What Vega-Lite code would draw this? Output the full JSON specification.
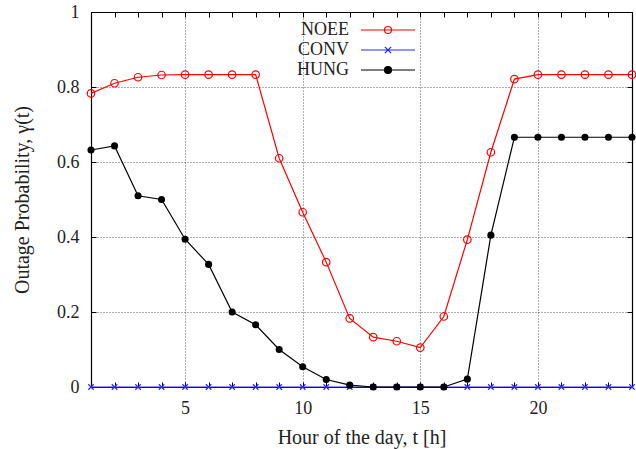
{
  "$schema": "https://vega.github.io/schema/vega-lite/v6.json",
  "width": 541,
  "height": 375,
  "autosize": {"type": "none"},
  "padding": {"left": 91, "top": 12, "right": 4, "bottom": 62},
  "background": "white",
  "config": {
    "view": {"stroke": null},
    "font": "Liberation Serif",
    "axis": {
      "labelFont": "Liberation Serif",
      "titleFont": "Liberation Serif",
      "labelFontSize": 18,
      "titleFontSize": 20,
      "titleFontWeight": "normal",
      "labelColor": "#222",
      "titleColor": "#222",
      "domainColor": "#000",
      "domainWidth": 1.2,
      "tickColor": "#000",
      "tickWidth": 1,
      "gridColor": "#333",
      "gridDash": [1, 2],
      "gridWidth": 0.8,
      "gridOpacity": 1,
      "labelFlush": false,
      "labelOverlap": false
    }
  },
  "data": {
    "values": [
      {"t": 1, "series": "NOEE", "p": 0.783}, {"t": 2, "series": "NOEE", "p": 0.81}, {"t": 3, "series": "NOEE", "p": 0.826}, {"t": 4, "series": "NOEE", "p": 0.832},
      {"t": 5, "series": "NOEE", "p": 0.833}, {"t": 6, "series": "NOEE", "p": 0.833}, {"t": 7, "series": "NOEE", "p": 0.833}, {"t": 8, "series": "NOEE", "p": 0.833},
      {"t": 9, "series": "NOEE", "p": 0.61}, {"t": 10, "series": "NOEE", "p": 0.466}, {"t": 11, "series": "NOEE", "p": 0.333}, {"t": 12, "series": "NOEE", "p": 0.183},
      {"t": 13, "series": "NOEE", "p": 0.133}, {"t": 14, "series": "NOEE", "p": 0.122}, {"t": 15, "series": "NOEE", "p": 0.105}, {"t": 16, "series": "NOEE", "p": 0.188},
      {"t": 17, "series": "NOEE", "p": 0.393}, {"t": 18, "series": "NOEE", "p": 0.626}, {"t": 19, "series": "NOEE", "p": 0.821}, {"t": 20, "series": "NOEE", "p": 0.833},
      {"t": 21, "series": "NOEE", "p": 0.833}, {"t": 22, "series": "NOEE", "p": 0.833}, {"t": 23, "series": "NOEE", "p": 0.833}, {"t": 24, "series": "NOEE", "p": 0.833},
      {"t": 1, "series": "CONV", "p": 0}, {"t": 2, "series": "CONV", "p": 0}, {"t": 3, "series": "CONV", "p": 0}, {"t": 4, "series": "CONV", "p": 0},
      {"t": 5, "series": "CONV", "p": 0}, {"t": 6, "series": "CONV", "p": 0}, {"t": 7, "series": "CONV", "p": 0}, {"t": 8, "series": "CONV", "p": 0},
      {"t": 9, "series": "CONV", "p": 0}, {"t": 10, "series": "CONV", "p": 0}, {"t": 11, "series": "CONV", "p": 0}, {"t": 12, "series": "CONV", "p": 0},
      {"t": 13, "series": "CONV", "p": 0}, {"t": 14, "series": "CONV", "p": 0}, {"t": 15, "series": "CONV", "p": 0}, {"t": 16, "series": "CONV", "p": 0},
      {"t": 17, "series": "CONV", "p": 0}, {"t": 18, "series": "CONV", "p": 0}, {"t": 19, "series": "CONV", "p": 0}, {"t": 20, "series": "CONV", "p": 0},
      {"t": 21, "series": "CONV", "p": 0}, {"t": 22, "series": "CONV", "p": 0}, {"t": 23, "series": "CONV", "p": 0}, {"t": 24, "series": "CONV", "p": 0},
      {"t": 1, "series": "HUNG", "p": 0.632}, {"t": 2, "series": "HUNG", "p": 0.643}, {"t": 3, "series": "HUNG", "p": 0.51}, {"t": 4, "series": "HUNG", "p": 0.5},
      {"t": 5, "series": "HUNG", "p": 0.394}, {"t": 6, "series": "HUNG", "p": 0.327}, {"t": 7, "series": "HUNG", "p": 0.2}, {"t": 8, "series": "HUNG", "p": 0.166},
      {"t": 9, "series": "HUNG", "p": 0.1}, {"t": 10, "series": "HUNG", "p": 0.054}, {"t": 11, "series": "HUNG", "p": 0.02}, {"t": 12, "series": "HUNG", "p": 0.005},
      {"t": 13, "series": "HUNG", "p": 0}, {"t": 14, "series": "HUNG", "p": 0}, {"t": 15, "series": "HUNG", "p": 0}, {"t": 16, "series": "HUNG", "p": 0},
      {"t": 17, "series": "HUNG", "p": 0.021}, {"t": 18, "series": "HUNG", "p": 0.405}, {"t": 19, "series": "HUNG", "p": 0.666}, {"t": 20, "series": "HUNG", "p": 0.666},
      {"t": 21, "series": "HUNG", "p": 0.666}, {"t": 22, "series": "HUNG", "p": 0.666}, {"t": 23, "series": "HUNG", "p": 0.666}, {"t": 24, "series": "HUNG", "p": 0.666}
    ]
  },
  "resolve": {"axis": {"x": "independent", "y": "independent"}},
  "layer": [
    {
      "mark": {"type": "line", "strokeWidth": 1.2, "clip": false},
      "encoding": {
        "x": {"field": "t", "type": "quantitative", "scale": {"domain": [1, 24], "nice": false, "zero": false},
          "axis": {"orient": "bottom", "values": [5, 10, 15, 20], "grid": true, "ticks": false, "labelPadding": 12, "title": "Hour of the day, t [h]", "titlePadding": 10}},
        "y": {"field": "p", "type": "quantitative", "scale": {"domain": [0, 1], "nice": false},
          "axis": {"orient": "left", "values": [0, 0.2, 0.4, 0.6, 0.8, 1], "format": "~g", "grid": true, "ticks": false, "labelAlign": "right", "labelBaseline": "middle", "labelPadding": 12, "title": "Outage Probability, γ(t)", "titlePadding": 24}},
        "color": {"field": "series", "type": "nominal",
          "scale": {"domain": ["NOEE", "CONV", "HUNG"], "range": ["#ff0000", "#2a2aff", "#000000"]},
          "legend": {
            "orient": "none", "legendX": 286, "legendY": 7, "title": null,
            "labelFont": "Liberation Serif", "labelFontSize": 18, "labelColor": "#222",
            "labelAlign": "right", "labelOffset": -50,
            "symbolSize": 400, "symbolStrokeWidth": 1.2, "rowPadding": 0,
            "encode": {"symbols": {"update": {
              "shape": {"signal": "datum.value === 'CONV' ? 'M-2.7,0H2.7M-0.32,-0.32L0.32,0.32M-0.32,0.32L0.32,-0.32' : 'M-2.7,0H2.7M0.35,0A0.35,0.35,0,1,1,-0.35,0A0.35,0.35,0,1,1,0.35,0'"},
              "fill": {"signal": "datum.value === 'HUNG' ? '#000' : 'transparent'"},
              "fillOpacity": {"value": 1}
            }}}
          }}
      }
    },
    {
      "transform": [{"filter": "datum.series === 'NOEE'"}],
      "mark": {"type": "point", "shape": "circle", "filled": false, "color": "#ff0000", "size": 56, "strokeWidth": 1.2, "opacity": 1, "clip": false},
      "encoding": {
        "x": {"field": "t", "type": "quantitative", "axis": {"orient": "top", "values": [1,2,3,4,5,6,7,8,9,10,11,12,13,14,15,16,17,18,19,20,21,22,23,24], "labels": false, "grid": false, "tickSize": -5, "title": null}},
        "y": {"field": "p", "type": "quantitative", "axis": {"orient": "right", "values": [0, 0.2, 0.4, 0.6, 0.8, 1], "labels": false, "grid": false, "tickSize": -5, "title": null}}
      }
    },
    {
      "transform": [{"filter": "datum.series === 'CONV'"}],
      "mark": {"type": "point", "shape": "M-1,-1L1,1M-1,1L1,-1", "filled": false, "color": "#2a2aff", "size": 30, "strokeWidth": 1.2, "opacity": 1, "clip": false},
      "encoding": {
        "x": {"field": "t", "type": "quantitative", "axis": {"orient": "bottom", "values": [1,2,3,4,5,6,7,8,9,10,11,12,13,14,15,16,17,18,19,20,21,22,23,24], "labels": false, "grid": false, "domain": false, "tickSize": -5, "title": null}},
        "y": {"field": "p", "type": "quantitative", "axis": {"orient": "left", "values": [0, 0.2, 0.4, 0.6, 0.8, 1], "labels": false, "grid": false, "domain": false, "tickSize": -5, "title": null}}
      }
    },
    {
      "transform": [{"filter": "datum.series === 'HUNG'"}],
      "mark": {"type": "point", "shape": "circle", "filled": true, "color": "#000000", "size": 50, "opacity": 1, "clip": false},
      "encoding": {
        "x": {"field": "t", "type": "quantitative", "axis": null},
        "y": {"field": "p", "type": "quantitative", "axis": null}
      }
    }
  ]
}
